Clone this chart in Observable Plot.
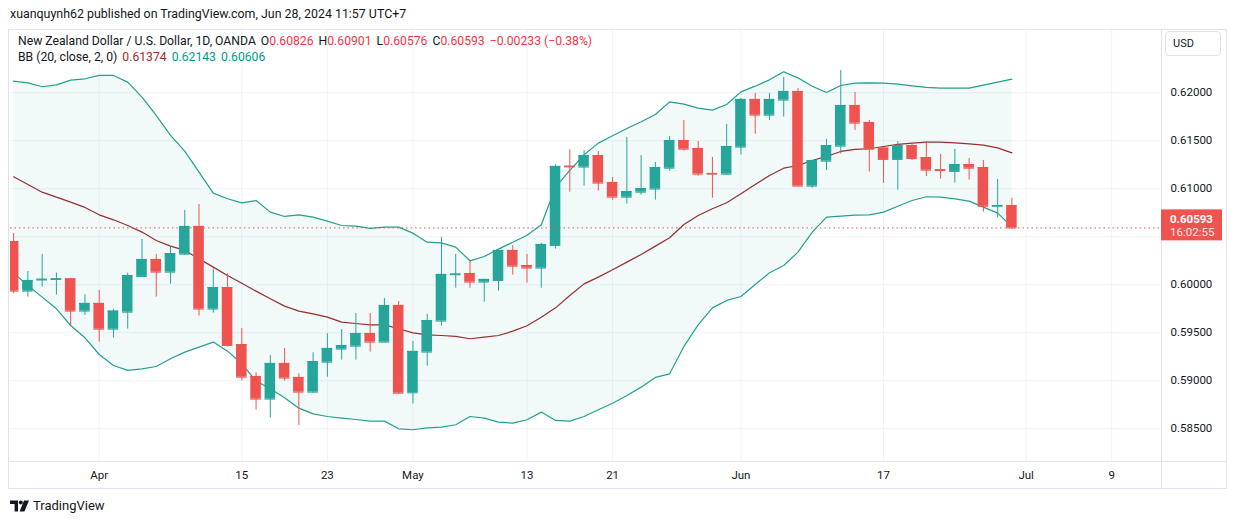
<!DOCTYPE html>
<html>
<head>
<meta charset="utf-8">
<script src="https://cdn.jsdelivr.net/npm/d3@7"></script>
<script src="https://cdn.jsdelivr.net/npm/@observablehq/plot@0.6"></script>
<style>
  body { margin: 0; background: #fff; font-family: Roboto, "Noto Sans", sans-serif; color: #131722; }
  #wrap { position: relative; width: 1237px; height: 524px; overflow: hidden; }
  #pub { position: absolute; left: 10px; top: 6px; font-size: 12.4px; white-space: nowrap; }
  #chart { position: absolute; left: 0; top: 29px; }
  #legend { position: absolute; left: 18px; top: 33px; font-size: 12.2px; line-height: 16px; white-space: nowrap; }
  #legend .r { color: #f23645; }
  #legend .m { color: #a52a2a; }
  #legend .t { color: #089981; }
  #legend .gap { display: inline-block; width: 5px; }
  #usd { position: absolute; left: 1165px; top: 31px; width: 56px; height: 25px; border: 1px solid #e0e3eb; border-radius: 4px; box-sizing: border-box; font-size: 11px; line-height: 23px; padding-left: 7px; }
  #logo { position: absolute; left: 10px; top: 498px; display: flex; align-items: center; gap: 4px; font-size: 13px; }
</style>
</head>
<body>
<div id="wrap">
  <div id="pub">xuanquynh62 published on TradingView.com, Jun 28, 2024 11:57 UTC+7</div>
  <div id="chart"></div>
  <div id="legend"></div>
  <div id="usd">USD</div>
  <div id="logo">
    <svg width="19" height="12" viewBox="0 0 19 12"><path d="M0 0.5h8v11H4.6V4H0z" fill="#131722"/><circle cx="10.8" cy="2.4" r="2" fill="#131722"/><path d="M14 0.5h5l-4.6 11H9.6z" fill="#131722"/></svg>
    <span>TradingView</span>
  </div>
</div>
<script>
// ---- data ----
const dates = [
  "2024-03-22",
  "2024-03-25","2024-03-26","2024-03-27","2024-03-28","2024-03-29",
  "2024-04-01","2024-04-02","2024-04-03","2024-04-04","2024-04-05",
  "2024-04-08","2024-04-09","2024-04-10","2024-04-11","2024-04-12",
  "2024-04-15","2024-04-16","2024-04-17","2024-04-18","2024-04-19",
  "2024-04-22","2024-04-23","2024-04-24","2024-04-25","2024-04-26",
  "2024-04-29","2024-04-30","2024-05-01","2024-05-02","2024-05-03",
  "2024-05-06","2024-05-07","2024-05-08","2024-05-09","2024-05-10",
  "2024-05-13","2024-05-14","2024-05-15","2024-05-16","2024-05-17",
  "2024-05-20","2024-05-21","2024-05-22","2024-05-23","2024-05-24",
  "2024-05-27","2024-05-28","2024-05-29","2024-05-30","2024-05-31",
  "2024-06-03","2024-06-04","2024-06-05","2024-06-06","2024-06-07",
  "2024-06-10","2024-06-11","2024-06-12","2024-06-13","2024-06-14",
  "2024-06-17","2024-06-18","2024-06-19","2024-06-20","2024-06-21",
  "2024-06-24","2024-06-25","2024-06-26","2024-06-27","2024-06-28"
];
const opens = [
  0.60451, 0.59934, 0.60050, 0.60055, 0.60062, 0.59726, 0.59806, 0.59538, 0.59715, 0.60087, 0.60264,
  0.60132, 0.60319, 0.60608, 0.59747, 0.59972, 0.59378, 0.59045, 0.58809, 0.59181, 0.59035,
  0.58882, 0.59194, 0.59330, 0.59361, 0.59493, 0.59403, 0.59785, 0.58875, 0.59299, 0.59622,
  0.60105, 0.60118, 0.60028, 0.60045, 0.60358, 0.60201, 0.60174, 0.60410, 0.61235, 0.61226,
  0.61347, 0.61066, 0.60913, 0.60965, 0.60997, 0.61215, 0.61503, 0.61420, 0.61160, 0.61153,
  0.61434, 0.61931, 0.61767, 0.61924, 0.62014, 0.61028, 0.61288, 0.61444, 0.61868, 0.61691,
  0.61424, 0.61306, 0.61451, 0.61326, 0.61198, 0.61181, 0.61253, 0.61222, 0.60818, 0.60826
];
const highs = [
  0.60535, 0.60139, 0.60316, 0.60122, 0.60068, 0.59896, 0.59941, 0.59743, 0.60122, 0.60472, 0.60316,
  0.60399, 0.60774, 0.60837, 0.60163, 0.60115, 0.59545, 0.59083, 0.59264, 0.59337, 0.59073,
  0.59292, 0.59490, 0.59535, 0.59701, 0.59701, 0.59858, 0.59826, 0.59410, 0.59691, 0.60493,
  0.60316, 0.60253, 0.60058, 0.60360, 0.60410, 0.60316, 0.60431, 0.61250, 0.61406, 0.61399,
  0.61389, 0.61118, 0.61535, 0.61347, 0.61274, 0.61545, 0.61712, 0.61493, 0.61326, 0.61670,
  0.61941, 0.61993, 0.61993, 0.62160, 0.62045, 0.61297, 0.61514, 0.62233, 0.62003, 0.61712,
  0.61425, 0.61493, 0.61465, 0.61493, 0.61358, 0.61410, 0.61316, 0.61295, 0.61097, 0.60901
];
const lows = [
  0.59906, 0.59872, 0.59976, 0.59892, 0.59576, 0.59681, 0.59403, 0.59444, 0.59538, 0.60076, 0.59872,
  0.60007, 0.60305, 0.59674, 0.59705, 0.59351, 0.58997, 0.58694, 0.58611, 0.58997, 0.58535,
  0.58871, 0.59038, 0.59215, 0.59215, 0.59299, 0.59400, 0.58865, 0.58757, 0.59153, 0.59569,
  0.59965, 0.59965, 0.59819, 0.59934, 0.60101, 0.60017, 0.59965, 0.60372, 0.60965, 0.61028,
  0.60976, 0.60882, 0.60840, 0.60934, 0.60882, 0.61184, 0.61392, 0.61132, 0.60903, 0.61139,
  0.61351, 0.61569, 0.61712, 0.61747, 0.61025, 0.61007, 0.61191, 0.61361, 0.61608, 0.61174,
  0.61056, 0.60986, 0.61295, 0.61128, 0.61101, 0.61059, 0.61090, 0.60757, 0.60698, 0.60576
];
const closes = [
  0.59934, 0.60045, 0.60058, 0.60062, 0.59726, 0.59806, 0.59538, 0.59726, 0.60097, 0.60264, 0.60132,
  0.60326, 0.60608, 0.59747, 0.59972, 0.59368, 0.59038, 0.58809, 0.59181, 0.59028, 0.58882,
  0.59201, 0.59337, 0.59368, 0.59493, 0.59403, 0.59785, 0.58871, 0.59306, 0.59628, 0.60108,
  0.60112, 0.60028, 0.60056, 0.60358, 0.60194, 0.60174, 0.60420, 0.61233, 0.61228, 0.61347,
  0.61059, 0.60913, 0.60972, 0.61003, 0.61222, 0.61503, 0.61413, 0.61153, 0.61153, 0.61441,
  0.61931, 0.61767, 0.61931, 0.62014, 0.61028, 0.61295, 0.61451, 0.61868, 0.61684, 0.61413,
  0.61306, 0.61451, 0.61316, 0.61194, 0.61190, 0.61253, 0.61215, 0.60818, 0.60826, 0.60593
];
// Bollinger Bands (20, close, 2) as drawn
const bbUpper = [
  0.62122, 0.62104, 0.62063, 0.62083, 0.62132, 0.62146, 0.62181, 0.62181, 0.62111, 0.61955, 0.61764,
  0.61556, 0.61392, 0.61174, 0.60955, 0.60896, 0.60854, 0.60878, 0.60757, 0.60712, 0.60729,
  0.60705, 0.60663, 0.60618, 0.60611, 0.60587, 0.60601, 0.60601, 0.60538, 0.60444, 0.60437,
  0.60392, 0.60250, 0.60295, 0.60372, 0.60444, 0.60517, 0.60625, 0.61017, 0.61191, 0.61354,
  0.61476, 0.61552, 0.61628, 0.61698, 0.61774, 0.61906, 0.61882, 0.61840, 0.61819, 0.61878,
  0.62010, 0.62069, 0.62135, 0.62219, 0.62156, 0.62069, 0.62003, 0.62076, 0.62101, 0.62104,
  0.62101, 0.62090, 0.62073, 0.62056, 0.62049, 0.62049, 0.62049, 0.62080, 0.62111, 0.62143
];
const bbBasis = [
  0.61125, 0.61045, 0.60965, 0.60913, 0.60861, 0.60806, 0.60729, 0.60677, 0.60618, 0.60549, 0.60462,
  0.60403, 0.60358, 0.60271, 0.60184, 0.60097, 0.60017, 0.59934, 0.59854, 0.59778, 0.59726,
  0.59698, 0.59663, 0.59611, 0.59597, 0.59583, 0.59583, 0.59542, 0.59500, 0.59479, 0.59472,
  0.59462, 0.59438, 0.59455, 0.59472, 0.59517, 0.59573, 0.59663, 0.59760, 0.59889, 0.60010,
  0.60080, 0.60156, 0.60236, 0.60316, 0.60403, 0.60490, 0.60628, 0.60722, 0.60792, 0.60854,
  0.60948, 0.61045, 0.61139, 0.61215, 0.61243, 0.61295, 0.61337, 0.61389, 0.61410, 0.61417,
  0.61441, 0.61462, 0.61476, 0.61486, 0.61486, 0.61479, 0.61469, 0.61455, 0.61427, 0.61374
];
const bbLower = [
  0.60122, 0.59993, 0.59872, 0.59750, 0.59576, 0.59448, 0.59274, 0.59160, 0.59108, 0.59125, 0.59149,
  0.59229, 0.59299, 0.59351, 0.59403, 0.59309, 0.59177, 0.58997, 0.58917, 0.58823, 0.58715,
  0.58656, 0.58628, 0.58611, 0.58597, 0.58580, 0.58580, 0.58500, 0.58490, 0.58510, 0.58517,
  0.58542, 0.58628, 0.58611, 0.58569, 0.58559, 0.58594, 0.58674, 0.58587, 0.58580, 0.58628,
  0.58698, 0.58767, 0.58847, 0.58934, 0.59035, 0.59073, 0.59358, 0.59583, 0.59760, 0.59837,
  0.59878, 0.60003, 0.60125, 0.60201, 0.60340, 0.60549, 0.60705, 0.60715, 0.60726, 0.60729,
  0.60757, 0.60819, 0.60878, 0.60917, 0.60913, 0.60896, 0.60872, 0.60809, 0.60747, 0.60606
];
const xTickDates  = ["2024-04-01","2024-04-15","2024-04-23","2024-05-01","2024-05-13","2024-05-21","2024-06-03","2024-06-17","2024-07-01","2024-07-09"];
const xTickLabels = ["Apr","15","23","May","13","21","Jun","17","Jul","9"];
const yTicks = [0.585, 0.59, 0.595, 0.60, 0.605, 0.61, 0.615, 0.62];
const yLabelTicks = [0.585, 0.59, 0.595, 0.60, 0.61, 0.615, 0.62];
const priceTimer = "16:02:55";

// ---- helpers ----
function tradingIndex(dateStr) {
  const d = new Date(dates[0] + "T00:00:00Z");
  const end = new Date(dateStr + "T00:00:00Z");
  let n = 0;
  while (d < end) {
    d.setUTCDate(d.getUTCDate() + 1);
    const w = d.getUTCDay();
    if (w !== 0 && w !== 6) n++;
  }
  return n;
}
const GREEN = "#26a69a", RED = "#ef5350", TEAL = "#22a08e", MAROON = "#962e2e";
const rows = dates.map((d, i) => ({
  idx: tradingIndex(d), open: opens[i], high: highs[i], low: lows[i], close: closes[i],
  upper: bbUpper[i], basis: bbBasis[i], lower: bbLower[i]
}));
const col = d => d.close >= d.open ? GREEN : RED;
const xTicks = xTickDates.map(tradingIndex);
const xLabel = new Map(xTicks.map((t, i) => [t, xTickLabels[i]]));
const last = rows[rows.length - 1];
const prev = rows[rows.length - 2];
const fmt5 = d3.format(".5f");
const HW = 0.37; // half body width in trading days

// ---- legend ----
const chg = last.close - prev.close;
const sgn = chg < 0 ? "\u2212" : "+";
document.getElementById("legend").innerHTML =
  `<div>New Zealand Dollar / U.S. Dollar, 1D, OANDA<span class="gap"></span>` +
  `O<span class="r">${fmt5(last.open)}</span><span class="gap"></span>` +
  `H<span class="r">${fmt5(last.high)}</span><span class="gap"></span>` +
  `L<span class="r">${fmt5(last.low)}</span><span class="gap"></span>` +
  `C<span class="r">${fmt5(last.close)}</span><span class="gap"></span>` +
  `<span class="r">${sgn}${fmt5(Math.abs(chg))} (${sgn}${(Math.abs(chg) / prev.close * 100).toFixed(2)}%)</span></div>` +
  `<div>BB (20, close, 2, 0)<span class="gap"></span><span class="m">${fmt5(last.basis)}</span><span class="gap"></span>` +
  `<span class="t">${fmt5(last.upper)}</span><span class="gap"></span><span class="t">${fmt5(last.lower)}</span></div>`;

// ---- chart ----
const chart = Plot.plot({
  width: 1237,
  height: 460,
  marginLeft: 10,
  marginRight: 76,
  marginTop: 1,
  marginBottom: 28,
  x: { domain: [-0.22, 80.49], axis: null },
  y: { domain: [0.581594, 0.62649], axis: null },
  style: { fontFamily: "Roboto, 'Noto Sans', sans-serif", fontSize: "11.5px", color: "#131722", background: "transparent", overflow: "visible" },
  marks: [
    Plot.ruleY(yTicks, { stroke: "#f0f3fa", strokeWidth: 1 }),
    Plot.ruleX(xTicks, { stroke: "#f0f3fa", strokeWidth: 1 }),
    Plot.areaY(rows, { x: "idx", y1: "lower", y2: "upper", fill: "#22ab94", fillOpacity: 0.06, clip: true }),
    Plot.lineY(rows, { x: "idx", y: "upper", stroke: TEAL, strokeWidth: 1.2, clip: true }),
    Plot.lineY(rows, { x: "idx", y: "lower", stroke: TEAL, strokeWidth: 1.2, clip: true }),
    Plot.lineY(rows, { x: "idx", y: "basis", stroke: MAROON, strokeWidth: 1.2, clip: true }),
    Plot.ruleX(rows, { x: "idx", y1: "low", y2: "high", stroke: col, strokeWidth: 1, clip: true }),
    Plot.rect(rows, { x1: d => d.idx - HW, x2: d => d.idx + HW, y1: "open", y2: "close", fill: col, clip: true }),
    Plot.ruleY(rows, { x1: d => d.idx - HW, x2: d => d.idx + HW, y: "open", stroke: col, strokeWidth: 1, clip: true }),
    Plot.ruleY(rows, { x1: d => d.idx - HW, x2: d => d.idx + HW, y: "close", stroke: col, strokeWidth: 1, clip: true }),
    Plot.ruleY([last.close], { stroke: RED, strokeWidth: 1, strokeDasharray: "1.5,3" }),
    Plot.axisY(yLabelTicks, { anchor: "right", tickSize: 0, tickPadding: 9, tickFormat: fmt5, label: null }),
    Plot.axisX(xTicks, { anchor: "bottom", tickSize: 0, tickPadding: 9, tickFormat: d => xLabel.get(d), label: null }),
    (index, scales, values, dims) => {
      const g = d3.create("svg:g").attr("text-anchor", "start");
      const xr = dims.width - dims.marginRight;
      const yb = dims.height - dims.marginBottom;
      g.append("rect").attr("x", 8.5).attr("y", 0.5).attr("width", 1218).attr("height", dims.height - 1)
        .attr("fill", "none").attr("stroke", "#e0e3eb");
      g.append("line").attr("x1", 8.5).attr("x2", 1226.5).attr("y1", yb + 0.5).attr("y2", yb + 0.5).attr("stroke", "#e0e3eb");
      g.append("line").attr("x1", xr + 0.5).attr("x2", xr + 0.5).attr("y1", 0.5).attr("y2", dims.height).attr("stroke", "#e0e3eb");
      const y = scales.y(last.close);
      g.append("rect").attr("x", xr).attr("y", y - 18).attr("width", 61).attr("height", 31).attr("fill", RED);
      g.append("text").attr("x", xr + 9).attr("y", y - 4.5).attr("fill", "#fff").attr("font-weight", "bold")
        .attr("font-size", "11.5px").attr("text-anchor", "start").text(fmt5(last.close));
      g.append("text").attr("x", xr + 9).attr("y", y + 9).attr("fill", "#fff").attr("fill-opacity", 0.9)
        .attr("font-size", "11.5px").attr("text-anchor", "start").text(priceTimer);
      return g.node();
    }
  ]
});
document.getElementById("chart").appendChild(chart);
</script>
</body>
</html>
